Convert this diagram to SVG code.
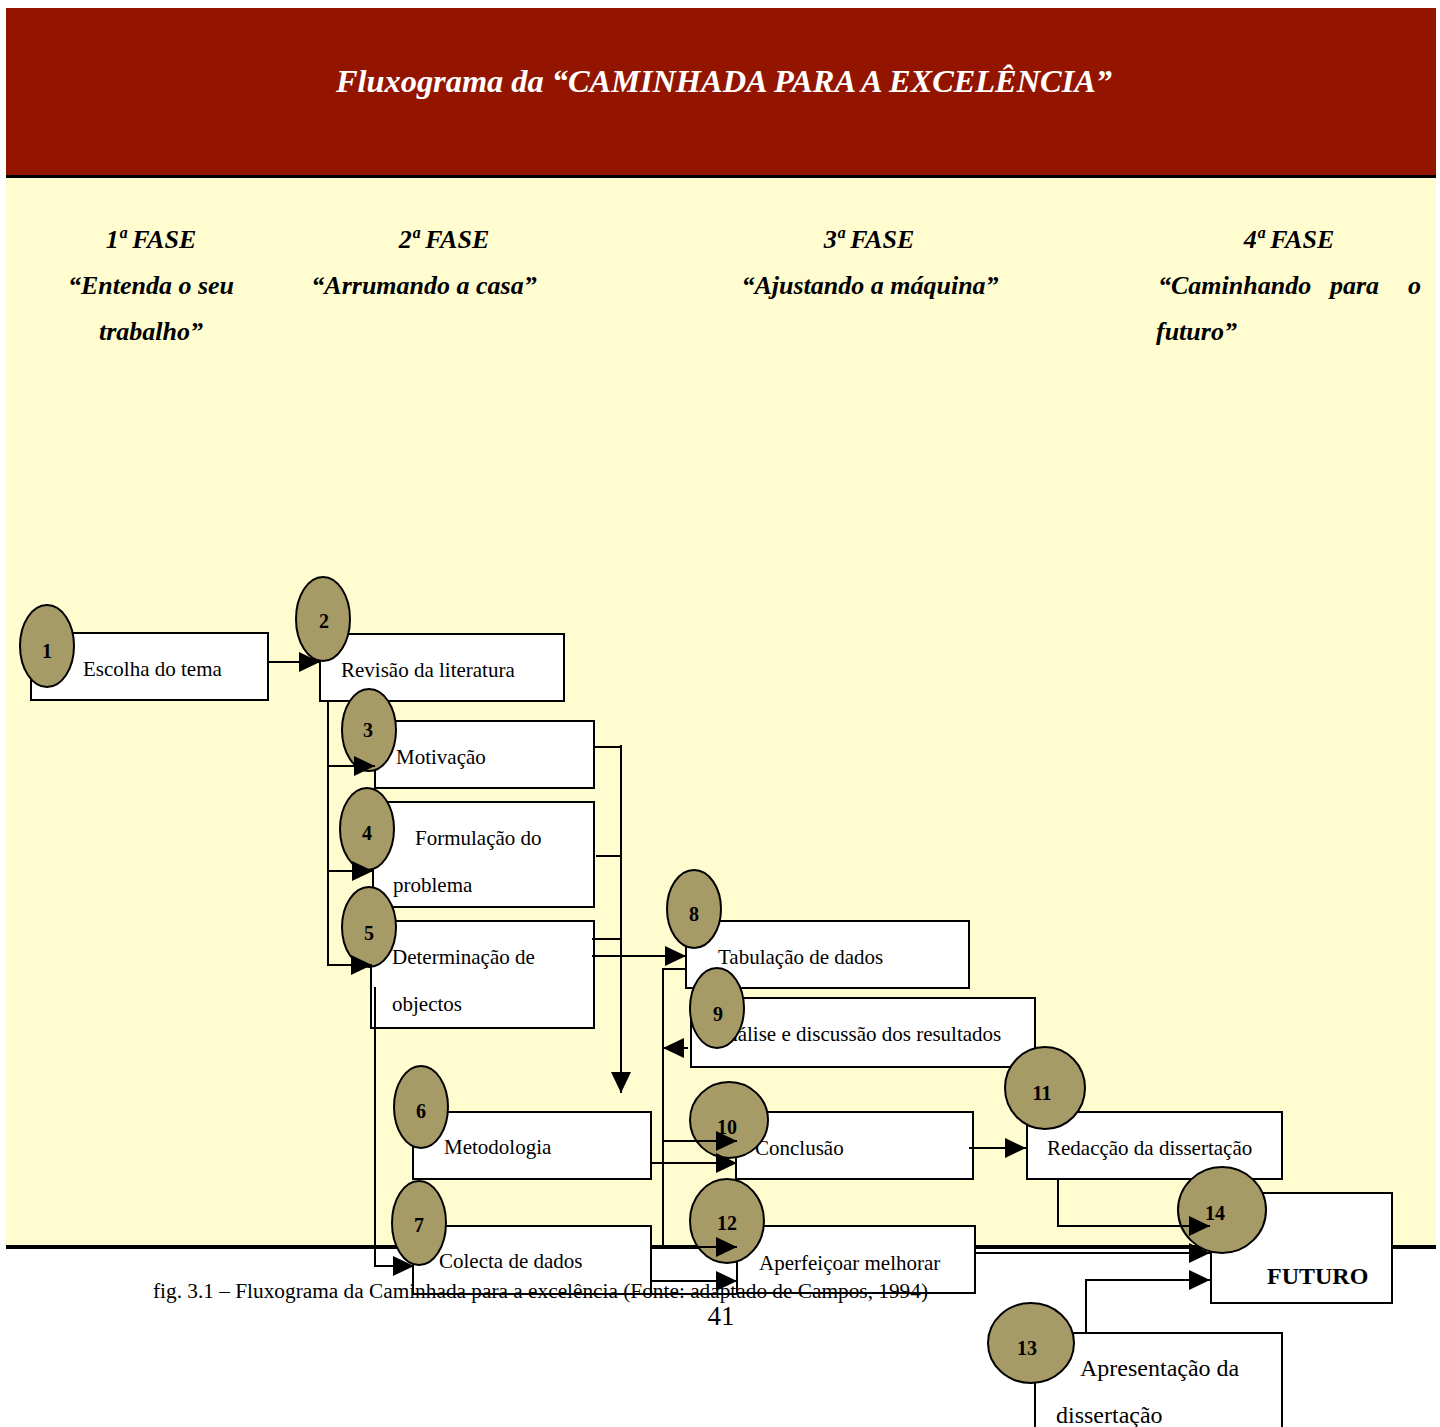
<svg xmlns="http://www.w3.org/2000/svg" width="1440" height="1427" viewBox="0 0 1440 1427">
<defs>
<marker id="ah" markerWidth="21" markerHeight="20" refX="21" refY="10" orient="auto" markerUnits="userSpaceOnUse">
<path d="M0,0 L21,10 L0,20 Z" fill="#000"/>
</marker>
<style>
.box{fill:#fff;stroke:#000;stroke-width:2}
.oval{fill:#A69A66;stroke:#000;stroke-width:2}
.t{font-family:"Liberation Serif","Times New Roman",serif;font-size:21px;fill:#000}
.t2{font-family:"Liberation Serif","Times New Roman",serif;font-size:24px;fill:#000}
.n{font-family:"Liberation Serif","Times New Roman",serif;font-size:20px;font-weight:bold;fill:#000;text-anchor:middle}
.ph{font-family:"Liberation Serif","Times New Roman",serif;font-size:26px;font-weight:bold;font-style:italic;fill:#000}
.c{fill:none;stroke:#000;stroke-width:2}
.a{fill:none;stroke:#000;stroke-width:2;marker-end:url(#ah)}
</style>
</defs>
<rect x="0" y="0" width="1440" height="1427" fill="#fff"/>
<rect x="6" y="8" width="1430" height="167" fill="#931500"/>
<rect x="6" y="175" width="1430" height="3" fill="#000"/>
<rect x="6" y="178" width="1430" height="1067" fill="#FFFDD0"/>
<rect x="6" y="1245" width="1430" height="4" fill="#000"/>
<text x="724" y="92" text-anchor="middle" textLength="776" lengthAdjust="spacingAndGlyphs" style="font-family:'Liberation Serif','Times New Roman',serif;font-size:32px;font-weight:bold;font-style:italic;fill:#fff">Fluxograma da “CAMINHADA PARA A EXCELÊNCIA”</text>
<g id="phases">
<text class="ph" x="151" y="248" text-anchor="middle">1ª FASE</text>
<text class="ph" x="151" y="294" text-anchor="middle">“Entenda o seu</text>
<text class="ph" x="151" y="340" text-anchor="middle">trabalho”</text>
<text class="ph" x="444" y="248" text-anchor="middle">2ª FASE</text>
<text class="ph" x="424" y="294" text-anchor="middle">“Arrumando a casa”</text>
<text class="ph" x="869" y="248" text-anchor="middle">3ª FASE</text>
<text class="ph" x="870" y="294" text-anchor="middle">“Ajustando a máquina”</text>
<text class="ph" x="1289" y="248" text-anchor="middle">4ª FASE</text>
<text class="ph" x="1158" y="294">“Caminhando</text>
<text class="ph" x="1330" y="294">para</text>
<text class="ph" x="1408" y="294">o</text>
<text class="ph" x="1156" y="340">futuro”</text>
</g>
<g id="node1"><rect class="box" x="31" y="633" width="237" height="67"/><text class="t" x="83" y="676">Escolha do tema</text><ellipse class="oval" cx="47" cy="646" rx="27" ry="41"/><text class="n" x="47" y="658">1</text></g>
<g id="node2"><rect class="box" x="320" y="634" width="244" height="67"/><text class="t" x="341" y="677">Revisão da literatura</text><ellipse class="oval" cx="323" cy="619" rx="27" ry="42"/><text class="n" x="324" y="628">2</text></g>
<g id="node3"><rect class="box" x="375" y="721" width="219" height="67"/><text class="t" x="396" y="764">Motivação</text><ellipse class="oval" cx="369" cy="730" rx="27" ry="41"/><text class="n" x="368" y="737">3</text></g>
<g id="node4"><rect class="box" x="373" y="802" width="221" height="105"/><text class="t" x="415" y="845">Formulação do</text><text class="t" x="393" y="892">problema</text><ellipse class="oval" cx="367" cy="829" rx="27" ry="41"/><text class="n" x="367" y="840">4</text></g>
<g id="node5"><rect class="box" x="371" y="921" width="223" height="107"/><text class="t" x="392" y="964">Determinação de</text><text class="t" x="392" y="1011">objectos</text><ellipse class="oval" cx="369" cy="927" rx="27" ry="40"/><text class="n" x="369" y="940">5</text></g>
<g id="node6"><rect class="box" x="413" y="1112" width="238" height="67"/><text class="t" x="444" y="1154">Metodologia</text><ellipse class="oval" cx="421" cy="1107" rx="27" ry="41"/><text class="n" x="421" y="1118">6</text></g>
<g id="node7"><rect class="box" x="413" y="1226" width="238" height="68"/><text class="t" x="439" y="1268">Colecta de dados</text><ellipse class="oval" cx="419" cy="1223" rx="27" ry="42"/><text class="n" x="419" y="1232">7</text></g>
<g id="node8"><rect class="box" x="686" y="921" width="283" height="67"/><text class="t" x="718" y="964">Tabulação de dados</text><ellipse class="oval" cx="694" cy="909" rx="27" ry="39"/><text class="n" x="694" y="921">8</text></g>
<g id="node9"><rect class="box" x="691" y="998" width="344" height="69"/><text class="t" x="712" y="1041">Análise e discussão dos resultados</text><ellipse class="oval" cx="717" cy="1008" rx="27" ry="40"/><text class="n" x="718" y="1021">9</text></g>
<g id="node10"><rect class="box" x="736" y="1112" width="237" height="67"/><text class="t" x="755" y="1155">Conclusão</text><ellipse class="oval" cx="729" cy="1120" rx="39" ry="38"/><text class="n" x="727" y="1134">10</text></g>
<g id="node11"><rect class="box" x="1027" y="1112" width="255" height="67"/><text class="t" x="1047" y="1155">Redacção da dissertação</text><ellipse class="oval" cx="1045" cy="1088" rx="40" ry="41"/><text class="n" x="1042" y="1100">11</text></g>
<g id="node12"><rect class="box" x="737" y="1226" width="238" height="67"/><text class="t" x="759" y="1270">Aperfeiçoar melhorar</text><ellipse class="oval" cx="727" cy="1221" rx="37" ry="42"/><text class="n" x="727" y="1230">12</text></g>
<g id="node13"><rect class="box" x="1035" y="1333" width="247" height="110"/><text class="t2" x="1080" y="1376">Apresentação da</text><text class="t2" x="1056" y="1423">dissertação</text><ellipse class="oval" cx="1031" cy="1343" rx="43" ry="40"/><text class="n" x="1027" y="1355">13</text></g>
<g id="node14"><rect class="box" x="1211" y="1193" width="181" height="110"/><text x="1267" y="1284" style="font-family:'Liberation Serif','Times New Roman',serif;font-size:24px;font-weight:bold;fill:#000">FUTURO</text><ellipse class="oval" cx="1222" cy="1210" rx="44" ry="43"/><text class="n" x="1215" y="1220">14</text></g>
<g id="connectors">
<path class="a" d="M268,662 H320"/>
<path class="c" d="M328,701 V966"/>
<path class="a" d="M328,766 H375"/>
<path class="a" d="M328,871 H373"/>
<path class="a" d="M328,965 H372"/>
<path class="c" d="M594,747 H621 M596,856 H621 M592,939 H621"/>
<path class="a" d="M621,745 V1093"/>
<path class="a" d="M592,956 H686"/>
<path class="a" d="M375,987 V1266 H414"/>
<path class="c" d="M686,969 H663 V1248"/>
<path class="a" d="M688,1048 H663"/>
<path class="a" d="M663,1141 H737"/>
<path class="a" d="M652,1163 H737"/>
<path class="a" d="M663,1247 H737"/>
<path class="a" d="M652,1281 H737"/>
<path class="c" d="M652,1294 H737"/>
<path class="a" d="M969,1148 H1026"/>
<path class="a" d="M1058,1179 V1226 H1210"/>
<path class="a" d="M975,1253 H1210"/>
<path class="a" d="M1086,1333 V1280 H1210"/>
</g>
<text x="153" y="1298" textLength="775" lengthAdjust="spacingAndGlyphs" style="font-family:'Liberation Serif','Times New Roman',serif;font-size:20px;fill:#000">fig. 3.1 – Fluxograma da Caminhada para a excelência (Fonte: adaptado de Campos, 1994)</text>
<text x="721" y="1325" text-anchor="middle" style="font-family:'Liberation Serif','Times New Roman',serif;font-size:27px;fill:#000">41</text>
</svg>
